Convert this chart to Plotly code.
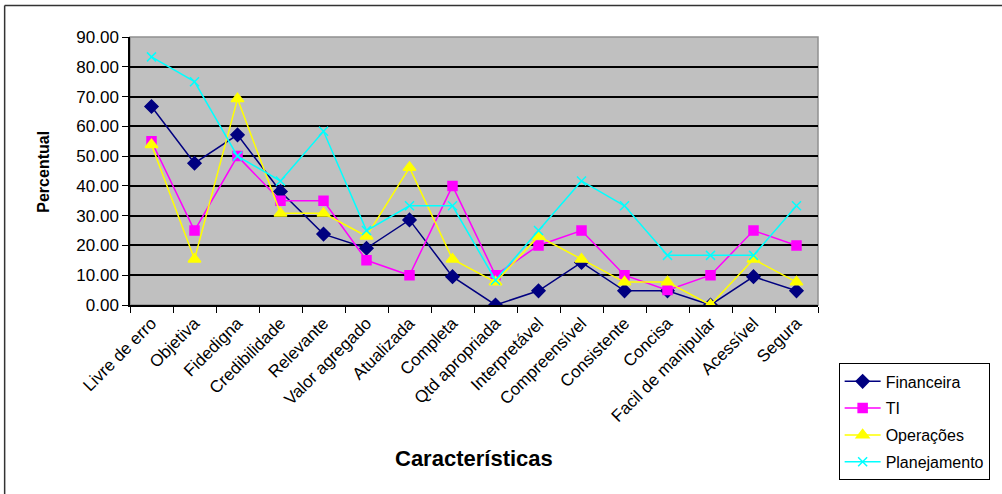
import plotly.graph_objects as go

# Chart data
categorias = ["Livre de erro", "Objetiva", "Fidedigna", "Credibilidade", "Relevante",
              "Valor agregado", "Atualizada", "Completa", "Qtd apropriada", "Interpretável",
              "Compreensível", "Consistente", "Concisa", "Facil de manipular", "Acessível",
              "Segura"]
financeira = [66.67, 47.62, 57.14, 38.10, 23.81, 19.05, 28.57, 9.52, 0.00, 4.76,
              14.29, 4.76, 4.76, 0.00, 9.52, 4.76]
ti = [55.00, 25.00, 50.00, 35.00, 35.00, 15.00, 10.00, 40.00, 10.00, 20.00,
      25.00, 10.00, 5.00, 10.00, 25.00, 20.00]
operacoes = [53.85, 15.38, 69.23, 30.77, 30.77, 23.08, 46.15, 15.38, 7.69, 23.08,
             15.38, 7.69, 7.69, 0.00, 15.38, 7.69]
planejamento = [83.33, 75.00, 50.00, 41.67, 58.33, 25.00, 33.33, 33.33, 8.33, 25.00,
                41.67, 33.33, 16.67, 16.67, 16.67, 33.33]
y_ticks = [0, 10, 20, 30, 40, 50, 60, 70, 80, 90]

FONT = "Arial, Liberation Sans, sans-serif"

series = [
    ("Financeira", financeira, "#000080", "diamond", 10),
    ("TI", ti, "#FF00FF", "square", 9),
    ("Operações", operacoes, "#FFFF00", "triangle-up", 11),
    ("Planejamento", planejamento, "#00FFFF", "x-thin-open", 9),
]

fig = go.Figure()
for name, vals, colour, symbol, size in series:
    fig.add_trace(go.Scatter(
        x=categorias,
        y=vals,
        name=name,
        legendgroup=name,
        mode="lines+markers",
        line={"color": colour, "width": 1.5},
        marker={"symbol": symbol, "size": size, "color": colour,
                "line": {"color": colour, "width": 1.5}},
    ))

fig.update_layout(
    width=1002,
    height=494,
    margin={"l": 130, "r": 180, "t": 37, "b": 189},
    paper_bgcolor="white",
    plot_bgcolor="#C0C0C0",
    font={"family": FONT, "size": 16, "color": "black"},
    showlegend=True,
    # legend must stay inside the figure, otherwise plotly pushes the margins
    legend=dict(
        x=1.03, y=-0.218, xanchor="left", yanchor="top",
        bordercolor="black", borderwidth=1,
        font={"size": 16, "family": FONT},
        tracegroupgap=3,
        traceorder="grouped",
        itemwidth=36,
    ),
    annotations=[
        dict(text="<b>Características</b>", x=0.5, y=-0.571, xref="paper", yref="paper",
             showarrow=False, font={"size": 22, "family": FONT}, xanchor="center",
             yanchor="middle"),
        dict(text="<b>Percentual</b>", x=-0.127, y=0.496, xref="paper", yref="paper",
             showarrow=False, textangle=-90, font={"size": 16, "family": FONT},
             xanchor="center", yanchor="middle"),
    ],
    shapes=[
        # plot area border
        dict(type="rect", xref="paper", yref="paper", x0=0, x1=1, y0=0, y1=1,
             line={"color": "#909090", "width": 1.5}, layer="below"),
        # outer chart frame (left and top edges visible)
        dict(type="line", xref="paper", yref="paper", x0=-0.1822, x1=1.3, y0=1.1175, y1=1.1175,
             line={"color": "#333333", "width": 1.5}),
        dict(type="line", xref="paper", yref="paper", x0=-0.1822, x1=-0.1822, y0=1.1175, y1=-0.75,
             line={"color": "#333333", "width": 1.5}),
    ],
)

fig.update_xaxes(
    type="category",
    range=[-0.5, len(categorias) - 0.5],
    tickangle=-45,
    tickson="boundaries",
    ticks="outside",
    ticklen=6,
    tickcolor="black",
    showline=True,
    linecolor="black",
    linewidth=1.5,
    showgrid=False,
    tickfont={"size": 17, "family": FONT},
)

fig.update_yaxes(
    range=[0, 90],
    tickvals=y_ticks,
    tickformat=".2f",
    ticks="outside",
    ticklen=6,
    tickcolor="black",
    showline=True,
    linecolor="black",
    linewidth=1.5,
    showgrid=True,
    gridcolor="black",
    gridwidth=1.5,
    zeroline=False,
    tickfont={"size": 17, "family": FONT},
)

# drop the default body margin so the figure sits at the window origin
fig.write_html("out.html", config={"displayModeBar": False},
               post_script="document.body.style.margin='0px';")
